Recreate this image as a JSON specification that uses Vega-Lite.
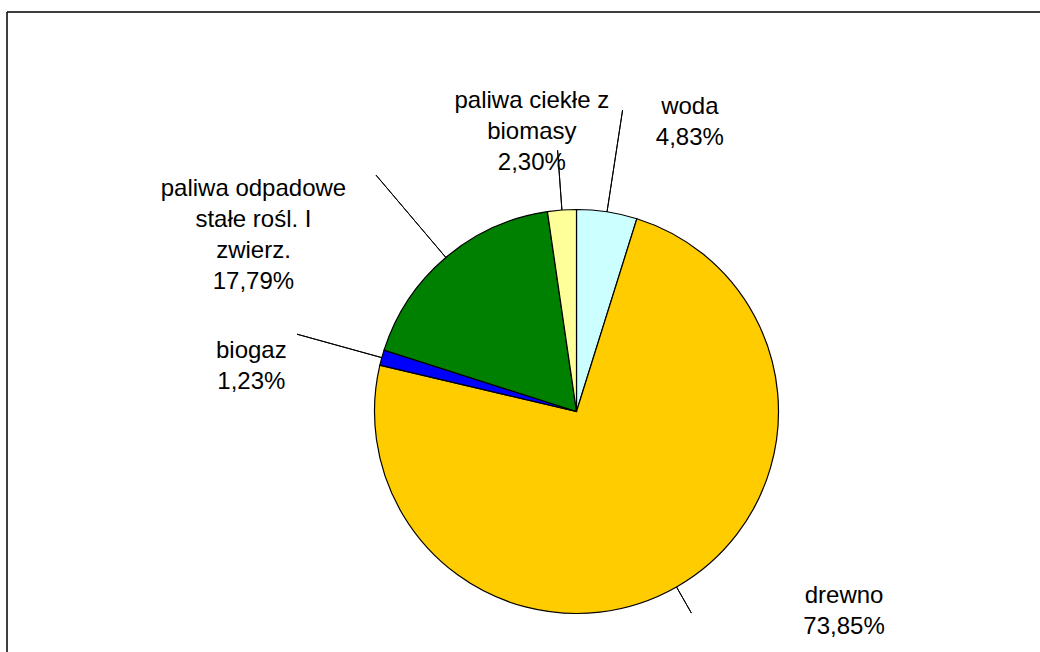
{
  "$schema": "https://vega.github.io/schema/vega-lite/v6.json",
  "width": 1033,
  "height": 640,
  "autosize": {"type": "none"},
  "padding": {"left": 7, "top": 12, "right": 0, "bottom": 0},
  "background": "white",
  "view": {"stroke": "#000000", "strokeWidth": 1.5, "strokeDash": [1033, 1673, 640, 0]},
  "config": {
    "text": {"font": "Liberation Sans"}
  },
  "data": {
    "values": [
      {"category": "woda", "value": 4.83, "order": 1, "label": ["woda", "4,83%"]},
      {"category": "drewno", "value": 73.85, "order": 2, "label": ["drewno", "73,85%"]},
      {"category": "biogaz", "value": 1.23, "order": 3, "label": ["biogaz", "1,23%"]},
      {"category": "paliwa odpadowe stałe rośl. I zwierz.", "value": 17.79, "order": 4, "label": ["paliwa odpadowe", "stałe rośl. I", "zwierz.", "17,79%"]},
      {"category": "paliwa ciekłe z biomasy", "value": 2.30, "order": 5, "label": ["paliwa ciekłe z", "biomasy", "2,30%"]}
    ]
  },
  "layer": [
    {
      "mark": {
        "type": "arc",
        "outerRadius": 202,
        "stroke": "#000000",
        "strokeWidth": 1.2,
        "x": {"expr": "width/2 + 53"},
        "y": {"expr": "height/2 + 79.5"}
      },
      "encoding": {
        "theta": {"field": "value", "type": "quantitative", "stack": true, "scale": {"domain": [0, 100]}},
        "order": {"field": "order", "type": "quantitative", "sort": "ascending"},
        "color": {
          "field": "category",
          "type": "nominal",
          "scale": {
            "domain": ["woda", "drewno", "biogaz", "paliwa odpadowe stałe rośl. I zwierz.", "paliwa ciekłe z biomasy"],
            "range": ["#CCFFFF", "#FFCC00", "#0000FF", "#008000", "#FFFF99"]
          },
          "legend": null
        }
      }
    },
    {
      "transform": [
        {"stack": "value", "groupby": [], "sort": [{"field": "order", "order": "ascending"}], "as": ["v0", "v1"]},
        {"fold": ["v0", "v1"], "as": ["edgeName", "edge"]},
        {"aggregate": [{"op": "mean", "field": "edge", "as": "mid"}], "groupby": ["category", "order"]}
      ],
      "mark": {
        "type": "arc",
        "filled": false,
        "stroke": "#000000",
        "strokeWidth": 1,
        "innerRadius": 202,
        "outerRadius": {"expr": "datum.order == 1 ? 305 : datum.order == 2 ? 232 : datum.order == 3 ? 290 : datum.order == 4 ? 310 : 262"},
        "x": {"expr": "width/2 + 53"},
        "y": {"expr": "height/2 + 79.5"}
      },
      "encoding": {
        "theta": {"field": "mid", "type": "quantitative", "stack": null, "scale": {"domain": [0, 100]}},
        "theta2": {"field": "mid"}
      }
    },
    {
      "mark": {
        "type": "text",
        "radius": 300,
        "fontSize": 24,
        "lineHeight": 31,
        "align": "center",
        "baseline": "middle",
        "color": "#000000",
        "dx": {"expr": "datum.order == 1 ? 68 : datum.order == 2 ? 119 : datum.order == 3 ? -36 : datum.order == 4 ? -129 : -23"},
        "dy": {"expr": "datum.order == 1 ? -8 : datum.order == 2 ? -76 : datum.order == 3 ? 19 : datum.order == 4 ? 6 : -11"},
        "x": {"expr": "width/2 + 53"},
        "y": {"expr": "height/2 + 79.5"}
      },
      "encoding": {
        "theta": {"field": "value", "type": "quantitative", "stack": true, "scale": {"domain": [0, 100]}},
        "order": {"field": "order", "type": "quantitative", "sort": "ascending"},
        "detail": {"field": "category", "type": "nominal"},
        "text": {"field": "label"}
      }
    }
  ]
}
